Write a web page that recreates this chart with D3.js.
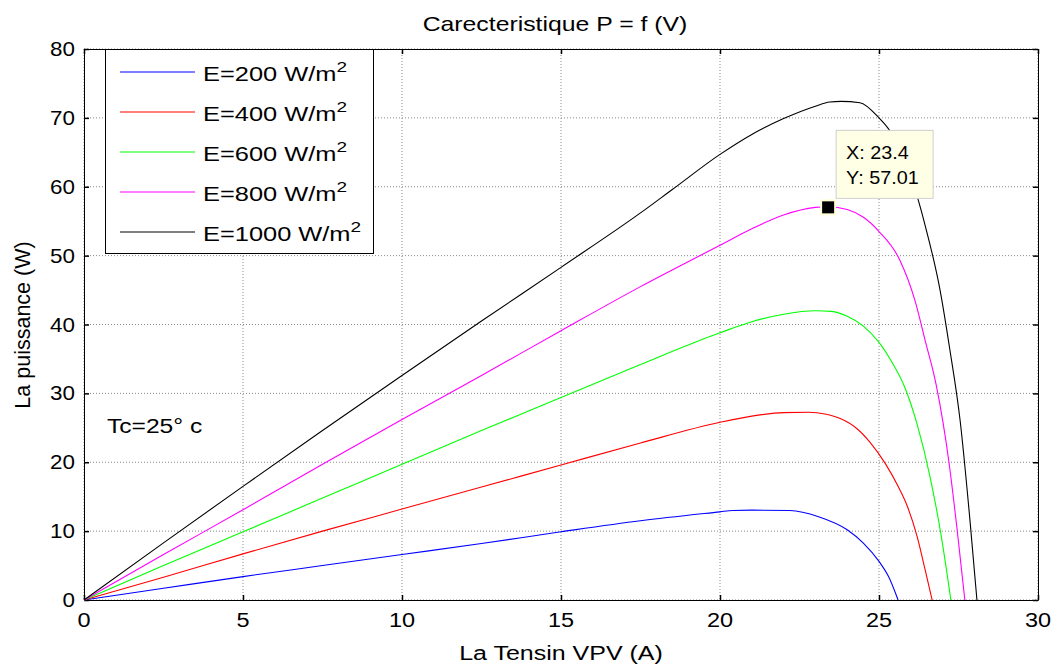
<!DOCTYPE html>
<html>
  <head>
    <style>
      body { margin: 0; background: #fff; }
      text { font-family: "Liberation Sans", Arial, sans-serif; fill: #000; }
      .grid line { stroke: #8a8a8a; stroke-width: 1; stroke-dasharray: 1,2; }
      .curve { fill: none; stroke-width: 1.1; }
    </style>
    <script src="https://d3js.org/d3.v7.min.js"></script>
  </head>
  <body>
    <svg id="chart" width="1058" height="666"></svg>

    <script>
      // irradiance levels and curve colours
      var labels = ["200", "400", "600", "800", "1000"];
      var colors = ["#0000ff", "#ff0000", "#00ff00", "#ff00ff", "#000000"];

      // voltage / power samples, one pair per curve
      var v200 = [0, 2.5, 5, 7.5, 10, 12.5, 15, 17.5, 20, 20.4, 21, 22.2, 23.1, 24, 24.5, 25, 25.3, 25.6];
      var p200 = [0, 1.7, 3.4, 5.0, 6.6, 8.2, 9.9, 11.5, 12.8, 13.0, 13.05, 13.0, 12.1, 10.2, 8.3, 5.6, 3.4, 0];

      var v400 = [0, 2.5, 5, 7.5, 10, 12.5, 15, 17.5, 20, 21, 22, 22.8, 23.3, 23.8, 24.3, 24.7, 25.2, 25.6, 25.9, 26.2, 26.45, 26.67];
      var p400 = [0, 3.3, 6.7, 10.0, 13.2, 16.4, 19.6, 22.8, 25.8, 26.7, 27.2, 27.25, 27.0, 26.3, 24.9, 23.0, 19.8, 16.5, 13.5, 9.2, 4.4, 0];

      var v600 = [0, 2.5, 5, 7.5, 10, 12.5, 15, 17.5, 20, 21, 22, 23, 23.5, 24, 24.5, 25, 25.4, 25.8, 26.2, 26.6, 26.95, 27.26];
      var p600 = [0, 5.0, 9.9, 14.8, 19.7, 24.6, 29.4, 34.2, 38.8, 40.4, 41.5, 42.0, 41.9, 41.2, 39.8, 37.4, 34.6, 31.0, 25.5, 18.0, 9.5, 0];

      var v800 = [0, 2.5, 5, 7.5, 10, 12.5, 15, 17.5, 20, 21, 22, 23, 23.4, 24, 24.5, 25, 25.66, 26.13, 26.45, 26.8, 27.2, 27.45, 27.7];
      var p800 = [0, 6.6, 13.1, 19.7, 26.2, 32.6, 39.1, 45.5, 51.5, 53.9, 55.9, 57.0, 57.1, 56.7, 55.6, 53.5, 49.3, 43.5, 37.7, 31.2, 20.0, 10.5, 0];

      var v1000 = [0, 2.5, 5, 7.5, 10, 12.5, 15, 17.5, 18.5, 20, 21, 22, 23, 23.45, 23.8, 24.4, 25, 25.3, 25.6, 25.9, 26.2, 26.45, 26.92, 27.23, 27.55, 27.86, 28.08];
      var p1000 = [0, 8.3, 16.5, 24.6, 32.6, 40.5, 48.3, 56.2, 59.6, 64.7, 67.6, 69.9, 71.7, 72.3, 72.4, 72.2, 70.0, 68.4, 66.0, 62.6, 58.6, 54.4, 45.0, 36.3, 26.1, 11.6, 0];

      var voltages = [v200, v400, v600, v800, v1000];
      var powers = [p200, p400, p600, p800, p1000];

      var xTicks = [0, 5, 10, 15, 20, 25, 30];
      var yTicks = [0, 10, 20, 30, 40, 50, 60, 70, 80];

      // data tip
      var tipX = 23.4, tipY = 57.01;

      var svg = d3.select("#chart");
      var plotLeft = 84, plotRight = 1038, plotTop = 49, plotBottom = 600;

      var x = d3.scaleLinear().domain([0, 30]).range([plotLeft, plotRight]);
      var y = d3.scaleLinear().domain([0, 80]).range([plotBottom, plotTop]);

      // the reference text is a bit wider than the font, so stretch it sideways
      function addText(px, py, str, size, sx, anchor) {
        return svg.append("text")
          .attr("transform", "translate(" + px + "," + py + ") scale(" + sx + ",1)")
          .attr("text-anchor", anchor || "start")
          .style("font-size", size + "px")
          .text(str);
      }

      // grid
      var grid = svg.append("g").attr("class", "grid");
      xTicks.forEach(function(t) {
        grid.append("line").attr("x1", x(t)).attr("x2", x(t)).attr("y1", plotTop).attr("y2", plotBottom);
      });
      yTicks.forEach(function(t) {
        grid.append("line").attr("x1", plotLeft).attr("x2", plotRight).attr("y1", y(t)).attr("y2", y(t));
      });

      // axes with inward ticks on all four sides
      svg.append("g").attr("transform", "translate(0," + plotBottom + ")")
        .call(d3.axisTop(x).tickValues(xTicks).tickSize(5).tickFormat("").tickSizeOuter(0));
      svg.append("g").attr("transform", "translate(0," + plotTop + ")")
        .call(d3.axisBottom(x).tickValues(xTicks).tickSize(5).tickFormat("").tickSizeOuter(0));
      svg.append("g").attr("transform", "translate(" + plotLeft + ",0)")
        .call(d3.axisRight(y).tickValues(yTicks).tickSize(5).tickFormat("").tickSizeOuter(0));
      svg.append("g").attr("transform", "translate(" + plotRight + ",0)")
        .call(d3.axisLeft(y).tickValues(yTicks).tickSize(5).tickFormat("").tickSizeOuter(0));
      svg.selectAll(".domain").attr("stroke", "#000");
      svg.selectAll(".tick line").attr("stroke", "#000").attr("stroke-width", 1.5);

      // tick labels
      xTicks.forEach(function(t) { addText(x(t), 627, t, 21, 1.12, "middle"); });
      yTicks.forEach(function(t) { addText(75, y(t) + 7, t, 20, 1.12, "end"); });

      // curves
      var line = d3.line()
        .x(function(d) { return x(d[0]); })
        .y(function(d) { return y(d[1]); })
        .curve(d3.curveMonotoneX);

      voltages.forEach(function(vs, i) {
        var pts = vs.map(function(v, j) { return [v, powers[i][j]]; });
        svg.append("path").attr("class", "curve")
          .attr("stroke", colors[i]).attr("d", line(pts));
      });

      // titles
      addText(555, 31, "Carecteristique P = f (V)", 20, 1.24, "middle");
      addText(561, 660, "La Tensin VPV (A)", 20, 1.25, "middle");
      svg.append("text").attr("transform", "translate(30,325) rotate(-90)")
        .attr("text-anchor", "middle").style("font-size", "21.5px").text("La puissance (W)");

      // annotation
      addText(107, 433, "Tc=25\u00b0 c", 20, 1.23);

      // legend
      svg.append("rect").attr("x", 105.5).attr("y", 49.5).attr("width", 268).attr("height", 204)
        .attr("fill", "#fff").attr("stroke", "#000");
      labels.forEach(function(lab, i) {
        var ly = 72 + i * 40;
        svg.append("line").attr("x1", 120).attr("x2", 195).attr("y1", ly).attr("y2", ly)
          .attr("stroke", colors[i]).attr("stroke-width", 1.1);
        var t = addText(203, ly + 9, "", 20, 1.27);
        t.append("tspan").text("E=" + lab + " W/m");
        t.append("tspan").attr("dy", -9).style("font-size", "15px").text("2");
      });

      // data tip
      var tx = x(tipX), ty = y(tipY);
      svg.append("rect").attr("x", tx + 8).attr("y", ty - 77).attr("width", 97).attr("height", 68)
        .attr("fill", "#ffffe6").attr("stroke", "#cfcfcf");
      addText(tx + 18, ty - 48, "X: " + tipX, 18, 1.1);
      addText(tx + 18, ty - 23, "Y: " + tipY, 18, 1.1);
      svg.append("rect").attr("x", tx - 7).attr("y", ty - 7).attr("width", 14).attr("height", 14)
        .attr("fill", "#000").attr("stroke", "#ffffd8").attr("stroke-width", 2);
    </script>
  </body>
</html>
